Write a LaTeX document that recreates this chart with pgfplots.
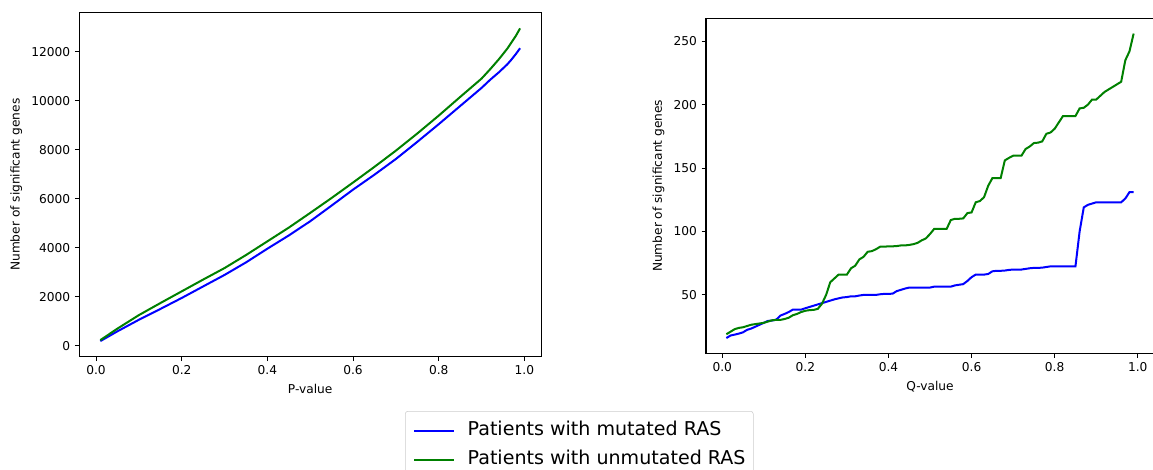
\documentclass[border=0pt]{standalone}
\usepackage{pgfplots}
\pgfplotsset{compat=1.18}
\usepackage{fontspec}
\setmainfont{DejaVu Sans}
\definecolor{mplblue}{RGB}{0,0,255}
\definecolor{mplgreen}{RGB}{0,128,0}
\pgfplotsset{
  sigaxis/.style={
    scale only axis, anchor=south west,
    axis line style={line width=0.8pt},
    tick style={black, line width=0.8pt},
    major tick length=3.3pt, tick align=outside,
    xtick pos=lower, ytick pos=left,
    ticklabel style={font=\fontsize{9.15}{11}\selectfont},
    label style={font=\fontsize{9.15}{11}\selectfont},
    /pgf/number format/assume math mode=true,
    scaled ticks=false,
    xmin=-0.039, xmax=1.039,
    xtick={0,0.2,0.4,0.6,0.8,1},
    xticklabel style={/pgf/number format/.cd, fixed, fixed zerofill, precision=1},
    yticklabel style={/pgf/number format/1000 sep={}},
    every axis plot/.append style={line width=1.5pt},
    legend image code/.code={\draw[#1] (0pt,0pt) -- (29.7pt,0pt);},
  },
}
\begin{document}
\begin{tikzpicture}
\useasboundingbox (0,0) rectangle (864.75pt,351.75pt);
\clip (0,0) rectangle (864.75pt,351.75pt);
\begin{axis}[sigaxis, at={(59.5pt,84.2pt)}, width=346.3pt, height=258pt,
  ymin=-448, ymax=13588, ytick={0,2000,4000,6000,8000,10000,12000},
  xlabel={P-value}, ylabel={Number of significant genes},
  legend style={at={(0.7053,-0.1578)}, anchor=north west, draw=black!20, rounded corners=2pt,
    font=\fontsize{14.3}{17}\selectfont, inner xsep=5.8pt, inner ysep=8pt,
    nodes={inner sep=0pt, text height=10.5pt, text depth=3pt}, row sep=8.25pt, column sep=9.8pt},
  legend cell align=left]
\addplot[mplblue] coordinates {(0.01,190)(0.05,590)(0.10,1060)(0.15,1500)(0.20,1950)(0.25,2420)(0.30,2890)(0.35,3400)(0.40,3960)(0.45,4500)(0.50,5080)(0.55,5720)(0.60,6370)(0.65,6980)(0.70,7620)(0.75,8320)(0.80,9040)(0.85,9780)(0.90,10520)(0.92,10850)(0.94,11150)(0.96,11480)(0.97,11680)(0.98,11900)(0.99,12140)};
\addplot[mplgreen] coordinates {(0.01,230)(0.05,700)(0.10,1250)(0.15,1740)(0.20,2220)(0.25,2700)(0.30,3170)(0.35,3700)(0.40,4260)(0.45,4820)(0.50,5420)(0.55,6030)(0.60,6660)(0.65,7300)(0.70,7960)(0.75,8660)(0.80,9390)(0.85,10150)(0.90,10900)(0.92,11280)(0.94,11680)(0.96,12120)(0.97,12380)(0.98,12640)(0.99,12950)};
\legend{Patients with mutated RAS, Patients with unmutated RAS}
\end{axis}
\begin{axis}[sigaxis, at={(529.5pt,86.8pt)}, width=336pt, height=251.2pt,
  ymin=4, ymax=268, ytick={50,100,150,200,250},
  xlabel={Q-value}, ylabel={Number of significant genes}]
\addplot[mplblue] coordinates {(0.01,16)(0.02,18)(0.03,18.7)(0.04,19.5)(0.05,20.5)(0.06,22.5)(0.07,23.5)(0.08,25)(0.09,26.5)(0.10,28)
(0.11,29.5)(0.12,29.8)(0.13,30.5)(0.14,33.7)(0.15,35)(0.16,36.5)(0.17,38.4)(0.18,38.4)(0.19,38.4)(0.20,39.5)
(0.21,40.5)(0.22,41.5)(0.23,42.5)(0.24,43.5)(0.25,44.5)(0.26,45.5)(0.27,46.5)(0.28,47.3)(0.29,48)(0.30,48.3)
(0.31,48.9)(0.32,48.9)(0.33,49.5)(0.34,50)(0.35,50)(0.36,50)(0.37,50)(0.38,50.5)(0.39,50.8)(0.40,50.8)
(0.41,51)(0.42,53)(0.43,54)(0.44,55)(0.45,55.8)(0.46,55.8)(0.47,55.8)(0.48,55.8)(0.49,55.8)(0.50,55.8)
(0.51,56.5)(0.52,56.5)(0.53,56.5)(0.54,56.5)(0.55,56.5)(0.56,57.5)(0.57,58)(0.58,58.5)(0.59,61)(0.60,64)
(0.61,66)(0.62,66)(0.63,66)(0.64,66.5)(0.65,68.6)(0.66,69)(0.67,69)(0.68,69.2)(0.69,69.7)(0.70,70)
(0.71,70)(0.72,70)(0.73,70.5)(0.74,71)(0.75,71.3)(0.76,71.3)(0.77,71.5)(0.78,72)(0.79,72.5)(0.80,72.5)
(0.81,72.5)(0.82,72.5)(0.83,72.5)(0.84,72.5)(0.85,72.5)(0.86,100)(0.87,119)(0.88,121)(0.89,122)(0.90,123)
(0.91,123)(0.92,123)(0.93,123)(0.94,123)(0.95,123)(0.96,123)(0.97,126)(0.98,131)(0.99,131)};
\addplot[mplgreen] coordinates {(0.01,19)(0.02,21)(0.03,23)(0.04,24)(0.05,24.5)(0.06,25.5)(0.07,26.5)(0.08,27)(0.09,27.5)(0.10,28)
(0.11,29)(0.12,30)(0.13,30.3)(0.14,30.3)(0.15,31)(0.16,32)(0.17,34)(0.18,35)(0.19,36.5)(0.20,37.5)
(0.21,38)(0.22,38.2)(0.23,39)(0.24,43)(0.25,50)(0.26,60)(0.27,63)(0.28,66)(0.29,66)(0.30,66)
(0.31,71)(0.32,73)(0.33,78)(0.34,80)(0.35,84)(0.36,84.5)(0.37,86)(0.38,88)(0.39,88)(0.40,88.3)
(0.41,88.3)(0.42,88.5)(0.43,89)(0.44,89)(0.45,89.4)(0.46,90)(0.47,91)(0.48,93)(0.49,94.5)(0.50,98)
(0.51,102)(0.52,102)(0.53,102)(0.54,102)(0.55,109)(0.56,110)(0.57,110)(0.58,110.3)(0.59,114.5)(0.60,115)
(0.61,123)(0.62,124)(0.63,127)(0.64,136)(0.65,142)(0.66,142)(0.67,142)(0.68,156)(0.69,158)(0.70,159.7)
(0.71,159.7)(0.72,159.7)(0.73,165)(0.74,167)(0.75,169.7)(0.76,170)(0.77,171)(0.78,177)(0.79,178)(0.80,181)
(0.81,186)(0.82,191)(0.83,191)(0.84,191)(0.85,191)(0.86,197)(0.87,197.5)(0.88,200)(0.89,204)(0.90,204)
(0.91,207)(0.92,210)(0.93,212)(0.94,214)(0.95,216)(0.96,218)(0.97,235)(0.98,242)(0.99,256)};
\end{axis}
\end{tikzpicture}
\end{document}
